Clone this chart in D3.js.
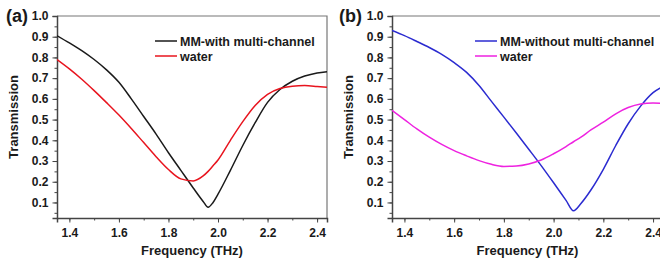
<!DOCTYPE html>
<html>
<head>
<meta charset="utf-8">
<script src="https://cdn.jsdelivr.net/npm/d3@7"></script>
<style>
  body { margin: 0; background: #fff; }
  svg text { font-family: "Liberation Sans", Arial, sans-serif; font-weight: bold; fill: #1a1a1a; }
</style>
</head>
<body>
<div id="vis-container"></div>
<script>
// frequency grid (THz) for panel (a)
const freq = [1.35, 1.40, 1.45, 1.50, 1.55, 1.60, 1.65, 1.70, 1.75, 1.80, 1.85, 1.90, 1.94, 1.96, 1.98,
              2.00, 2.05, 2.10, 2.15, 2.20, 2.25, 2.30, 2.35, 2.40, 2.44];

// panel (a)
const mmWith = [0.905, 0.87, 0.833, 0.79, 0.74, 0.68, 0.60, 0.515, 0.43, 0.34, 0.255, 0.17, 0.105, 0.077, 0.10,
                0.14, 0.255, 0.375, 0.485, 0.583, 0.645, 0.685, 0.71, 0.725, 0.731];
const waterA = [0.79, 0.745, 0.695, 0.64, 0.582, 0.522, 0.457, 0.389, 0.321, 0.259, 0.214, 0.204, 0.228, 0.25, 0.277,
                0.305, 0.40, 0.49, 0.568, 0.622, 0.65, 0.661, 0.664, 0.66, 0.656];

// panel (b)
const freqB = [1.35, 1.40, 1.45, 1.50, 1.55, 1.60, 1.65, 1.70, 1.75, 1.80, 1.85, 1.90, 1.95, 2.00, 2.05,
               2.08, 2.11, 2.15, 2.20, 2.25, 2.30, 2.35, 2.40, 2.44];
const mmWithout = [0.93, 0.905, 0.877, 0.848, 0.815, 0.775, 0.728, 0.665, 0.588, 0.512, 0.435, 0.357, 0.278, 0.195, 0.11,
                   0.06, 0.095, 0.16, 0.26, 0.375, 0.48, 0.565, 0.63, 0.66];
const waterB = [0.545, 0.50, 0.455, 0.415, 0.38, 0.35, 0.325, 0.302, 0.284, 0.274, 0.276, 0.286, 0.305, 0.335, 0.37,
                0.393, 0.415, 0.45, 0.488, 0.528, 0.558, 0.575, 0.58, 0.578];

const xTicks = [1.4, 1.6, 1.8, 2.0, 2.2, 2.4];
const yTicks = [0.1, 0.2, 0.3, 0.4, 0.5, 0.6, 0.7, 0.8, 0.9, 1.0];

const W = 660, H = 264;
const svg = d3.select("#vis-container").append("svg")
    .attr("width", W).attr("height", H);

function drawPanel(p) {
  const x = d3.scaleLinear().domain([1.35, 2.44]).range([p.left, p.right]);
  const y = d3.scaleLinear().domain([0.025, 1.0]).range([p.bottom, p.top]);
  const g = svg.append("g");

  g.append("clipPath").attr("id", "clip" + p.tag)
    .append("rect").attr("x", p.left).attr("y", p.top)
    .attr("width", p.right - p.left).attr("height", p.bottom - p.top);

  // frame top/right
  g.append("path")
    .attr("d", `M${p.left},${p.top}H${p.right}V${p.bottom}`)
    .attr("fill", "none").attr("stroke", "#777").attr("stroke-width", 1.2);

  // minor ticks
  g.append("g").attr("transform", `translate(0,${p.bottom})`)
    .call(d3.axisBottom(x).tickValues(d3.range(1.4, 2.45, 0.1)).tickSize(2.5).tickFormat(""))
    .call(a => a.select(".domain").remove())
    .selectAll("line").attr("stroke", "#444");
  g.append("g").attr("transform", `translate(${p.left},0)`)
    .call(d3.axisLeft(y).tickValues(d3.range(0.05, 1.0, 0.05)).tickSize(2.5).tickFormat(""))
    .call(a => a.select(".domain").remove())
    .selectAll("line").attr("stroke", "#444");

  // major axes
  const ax = g.append("g").attr("transform", `translate(0,${p.bottom})`)
    .call(d3.axisBottom(x).tickValues(xTicks).tickSize(4.5).tickPadding(6).tickFormat(d3.format(".1f")));
  const ay = g.append("g").attr("transform", `translate(${p.left},0)`)
    .call(d3.axisLeft(y).tickValues(yTicks).tickSize(4.5).tickPadding(4).tickFormat(d3.format(".1f")));
  [ax, ay].forEach(a => {
    a.select(".domain").attr("stroke", "#444").attr("stroke-width", 1.5);
    a.selectAll("line").attr("stroke", "#444");
    a.selectAll("text").attr("font-size", "12px").attr("font-family", null);
  });

  // curves
  const line = (xs, ys) => d3.line()
      .x((d, i) => x(xs[i])).y(d => y(d))
      .curve(d3.curveMonotoneX)(ys);
  p.series.forEach(s => {
    g.append("path").attr("d", line(s.xs, s.ys))
      .attr("clip-path", `url(#clip${p.tag})`)
      .attr("fill", "none").attr("stroke", s.color).attr("stroke-width", 1.5);
  });

  // legend
  p.series.forEach((s, i) => {
    const ly = 41 + i * 15;
    g.append("line").attr("x1", p.legendX).attr("x2", p.legendX + 22)
      .attr("y1", ly).attr("y2", ly).attr("stroke", s.color).attr("stroke-width", 1.5);
    g.append("text").attr("x", p.legendX + 25).attr("y", ly + 4.5)
      .attr("font-size", "12.5px").text(s.name);
  });

  // titles
  g.append("text").attr("x", (p.left + p.right) / 2).attr("y", 255)
    .attr("text-anchor", "middle").attr("font-size", "13px").text("Frequency (THz)");
  g.append("text").attr("transform", `translate(${p.titleX},117) rotate(-90)`)
    .attr("text-anchor", "middle").attr("font-size", "13px").text("Transmission");
  g.append("text").attr("x", p.labelX).attr("y", 22)
    .attr("font-size", "18px").text(p.label);
}

drawPanel({
  tag: "a", left: 57, right: 327, top: 16, bottom: 218,
  legendX: 155, titleX: 18, labelX: 6, label: "(a)",
  series: [
    { name: "MM-with multi-channel", xs: freq, ys: mmWith, color: "#1a1a1a" },
    { name: "water", xs: freq, ys: waterA, color: "#e8141e" }
  ]
});

drawPanel({
  tag: "b", left: 392, right: 663, top: 16, bottom: 218,
  legendX: 475, titleX: 353, labelX: 339, label: "(b)",
  series: [
    { name: "MM-without multi-channel", xs: freqB, ys: mmWithout, color: "#2b2bd0" },
    { name: "water", xs: freqB, ys: waterB, color: "#ee22e0" }
  ]
});
</script>
</body>
</html>
